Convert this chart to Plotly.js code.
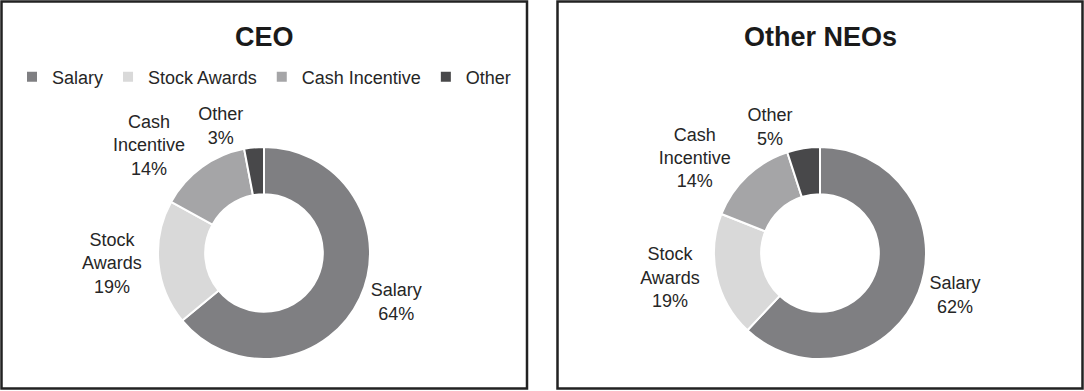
<!DOCTYPE html>
<html>
<head>
<meta charset="utf-8">
<script src="https://cdn.plot.ly/plotly-3.0.1.min.js"></script>
<style>html,body{margin:0;padding:0;background:#fff;}#chart{width:1084px;height:391px;}</style>
</head>
<body>
<div id="chart"></div>
<script>
const categories = ["Salary", "Stock Awards", "Cash Incentive", "Other"];
const sliceLabels = ["Salary", "Stock<br>Awards", "Cash<br>Incentive", "Other"];
const ceoValues = [64, 19, 14, 3];
const neoValues = [62, 19, 14, 5];
const panelTitles = ["CEO", "Other NEOs"];
const colors = ["#7f7f82", "#d9d9d9", "#a5a5a7", "#48484a"];

const W = 1084, H = 391;
const px = x => x / W;
const py = y => 1 - y / H;
const FONT = "Liberation Sans, Arial, sans-serif";
const LBL = "%{text}<br>%{percent:.0%}";

function pie(values, dom, legendId) {
  return {
    type: "pie",
    values: values,
    labels: categories,
    text: sliceLabels,
    texttemplate: [LBL, LBL, LBL, ""],
    textposition: "outside",
    outsidetextfont: {family: FONT, size: 18, color: "#262626"},
    hole: 0.555,
    sort: false,
    direction: "clockwise",
    rotation: 0,
    marker: {colors: colors, line: {color: "#ffffff", width: 2}},
    domain: dom,
    legend: legendId,
    hoverinfo: "label+percent"
  };
}

// overlay trace that only carries the small "Other" slice label, so it keeps its natural place
function labelPie(values, dom) {
  return {
    type: "pie",
    values: values,
    labels: categories,
    text: sliceLabels,
    texttemplate: ["", "", "", LBL],
    textposition: "outside",
    outsidetextfont: {family: FONT, size: 18, color: "#262626"},
    hole: 0.555,
    sort: false,
    direction: "clockwise",
    rotation: 0,
    marker: {colors: ["rgba(0,0,0,0)", "rgba(0,0,0,0)", "rgba(0,0,0,0)", "rgba(0,0,0,0)"], line: {width: 0}},
    domain: dom,
    showlegend: false,
    hoverinfo: "skip"
  };
}

const domCEO = {x: [px(158), px(370)], y: [py(359), py(147)]};
const domNEO = {x: [px(714), px(926)], y: [py(359), py(147)]};

const data = [
  pie(ceoValues, domCEO, "legend"),
  labelPie(ceoValues, domCEO),
  pie(neoValues, domNEO, "legend2"),
  labelPie(neoValues, domNEO)
];

const legendBase = {
  orientation: "h",
  xanchor: "center",
  yanchor: "middle",
  y: py(77),
  font: {family: FONT, size: 18, color: "#262626"},
  bgcolor: "rgba(0,0,0,0)",
  traceorder: "normal"
};

const layout = {
  width: W,
  height: H,
  margin: {l: 0, r: 0, t: 0, b: 0},
  paper_bgcolor: "#ffffff",
  font: {family: FONT, color: "#262626"},
  showlegend: true,
  legend: Object.assign({}, legendBase, {x: px(264)}),
  legend2: Object.assign({}, legendBase, {x: px(820)}),
  annotations: [
    {text: "<b>" + panelTitles[0] + "</b>", x: px(264), y: py(36.5), xref: "paper", yref: "paper",
     xanchor: "center", yanchor: "middle", showarrow: false,
     font: {family: FONT, size: 27, color: "#1a1a1a"}},
    {text: "<b>" + panelTitles[1] + "</b>", x: px(820), y: py(36.5), xref: "paper", yref: "paper",
     xanchor: "center", yanchor: "middle", showarrow: false,
     font: {family: FONT, size: 27, color: "#1a1a1a"}}
  ],
  shapes: [
    {type: "rect", xref: "paper", yref: "paper", x0: px(1.5), x1: px(527), y0: py(388.5), y1: py(1.5),
     line: {color: "#222222", width: 2.5}},
    {type: "rect", xref: "paper", yref: "paper", x0: px(557.5), x1: px(1082.5), y0: py(388.5), y1: py(1.5),
     line: {color: "#222222", width: 2.5}}
  ]
};

Plotly.newPlot("chart", data, layout, {displayModeBar: false, staticPlot: true});
</script>
</body>
</html>
